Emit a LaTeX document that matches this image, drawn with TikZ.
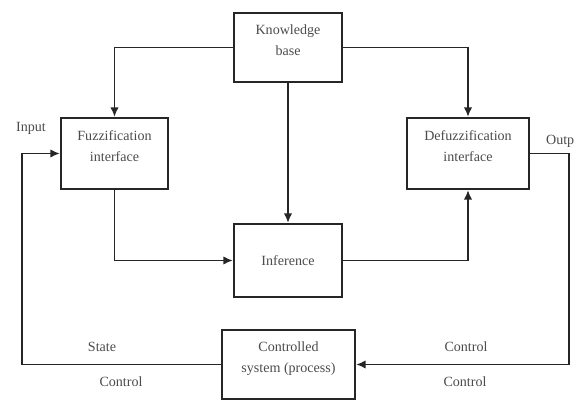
\documentclass[tikz,border=0pt]{standalone}
\usepackage{fontspec}
\setmainfont{Liberation Serif}
\usetikzlibrary{arrows.meta,positioning,calc}

\begin{document}
\begin{tikzpicture}[
    x=0.03cm,y=-0.03cm,
    block/.style={draw=black!85,line width=2pt,fill=white,align=center,text=black!70,font=\fontsize{12}{18}\selectfont},
    twoline/.style={text depth=0.42cm},
    conn/.style={draw=black!85,line width=1.2pt,-{Latex[length=8pt,width=7pt]}},
    line/.style={draw=black!85,line width=1.2pt},
    tag/.style={text=black!70,font=\fontsize{12}{14}\selectfont}
  ]
    \useasboundingbox (0,0) rectangle (574,401);

    % Blocks
    \node[block,twoline,minimum width=3.24cm,minimum height=2.07cm] (kb) at (288,47.5) {Knowledge\\base};
    \node[block,twoline,minimum width=3.21cm,minimum height=2.13cm] (fuzz) at (114.5,153.5) {Fuzzification\\interface};
    \node[block,twoline,minimum width=3.66cm,minimum height=2.13cm] (defuzz) at (468,153.5) {Defuzzification\\interface};
    \node[block,minimum width=3.24cm,minimum height=2.19cm] (infer) at (288,260.5) {Inference};
    \node[block,twoline,minimum width=3.99cm,minimum height=2.07cm] (plant) at (288.5,364.5) {Controlled\\system (process)};

    % Corners of the feedback loop
    \coordinate (inL) at (22,153.5);
    \coordinate (outR) at (569,153.5);

    % Connections
    \draw[conn] (kb.west) -| (fuzz.north);
    \draw[conn] (kb.east) -| (defuzz.north);
    \draw[conn] (kb) -- (infer);
    \draw[conn] (fuzz.south) |- (infer.west);
    \draw[conn] (infer.east) -| (defuzz.south);
    \draw[line] (defuzz.east) -- (outR);
    \draw[conn] (outR) |- (plant.east);
    \draw[conn] (plant.west) -| (inL) -- (fuzz.west);

    % Signal labels
    \node[tag] (input) at (31,128) {Input};
    \node[tag,anchor=west] (output) at (542,141) {Output};
    \node[tag] (state) at (102,347) {State};
    \node[tag] (ctrlL) at (121,382) {Control};
    \node[tag] (ctrlR1) at (466,347) {Control};
    \node[tag] (ctrlR2) at (465,382) {Control};
  \end{tikzpicture}
\end{document}
